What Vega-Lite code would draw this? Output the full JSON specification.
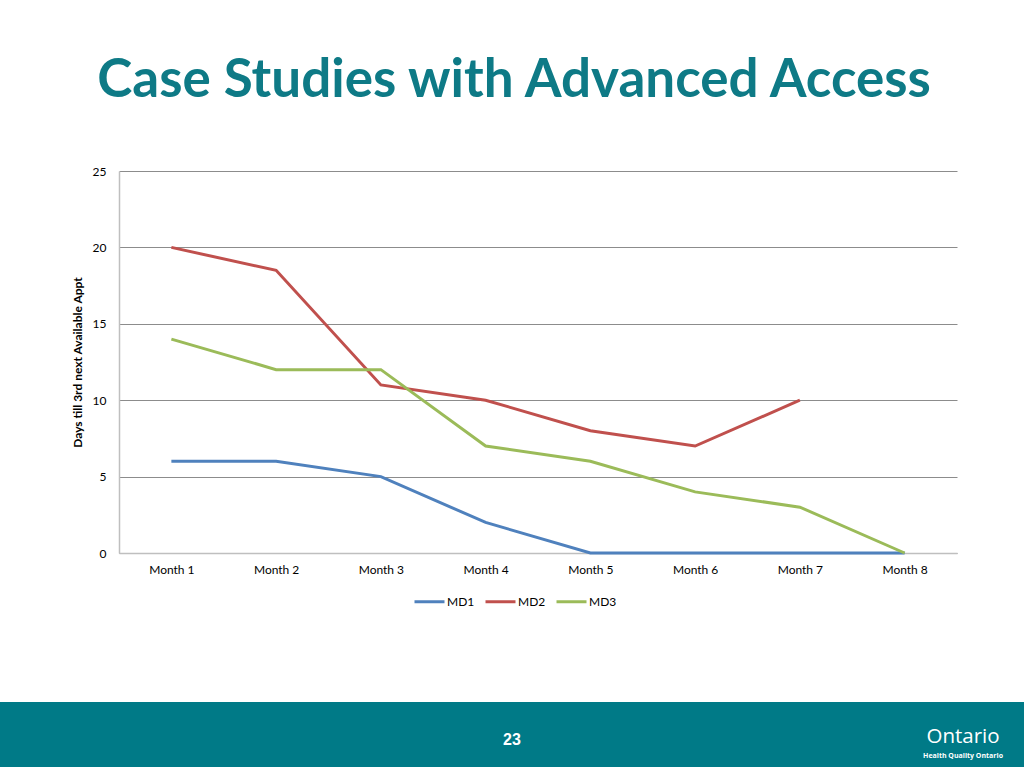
{
  "$schema": "https://vega.github.io/schema/vega-lite/v6.json",
  "padding": {"left": 0, "top": 55, "right": 0, "bottom": 0},
  "background": "white",
  "spacing": 94,
  "resolve": {"legend": {"color": "independent"}, "scale": {"color": "independent"}},
  "config": {
    "view": {"stroke": null},
    "axis": {"labelFont": "Lato", "labelFontSize": 12, "labelColor": "#000000", "titleFont": "Lato", "titleColor": "#000000"},
    "legend": {"labelFont": "Lato", "labelFontSize": 12, "labelColor": "#000000"}
  },
  "vconcat": [
    {
      "spacing": 20,
      "resolve": {"legend": {"color": "independent"}, "scale": {"color": "independent"}},
      "hconcat": [
        {
          "width": 51,
          "height": 10,
          "data": {"values": []},
          "mark": "point"
        },
        {
          "title": {
            "text": "Case Studies with Advanced Access",
            "font": "Lato",
            "fontSize": 53,
            "fontWeight": "bold",
            "color": "#0E7A86",
            "anchor": "middle",
            "frame": "bounds",
            "offset": 57
          },
          "width": 838,
          "height": 382,
          "data": {
            "values": [
              {"month": "Month 1", "series": "MD1", "days": 6},
              {"month": "Month 2", "series": "MD1", "days": 6},
              {"month": "Month 3", "series": "MD1", "days": 5},
              {"month": "Month 4", "series": "MD1", "days": 2},
              {"month": "Month 5", "series": "MD1", "days": 0},
              {"month": "Month 6", "series": "MD1", "days": 0},
              {"month": "Month 7", "series": "MD1", "days": 0},
              {"month": "Month 8", "series": "MD1", "days": 0},
              {"month": "Month 1", "series": "MD2", "days": 20},
              {"month": "Month 2", "series": "MD2", "days": 18.5},
              {"month": "Month 3", "series": "MD2", "days": 11},
              {"month": "Month 4", "series": "MD2", "days": 10},
              {"month": "Month 5", "series": "MD2", "days": 8},
              {"month": "Month 6", "series": "MD2", "days": 7},
              {"month": "Month 7", "series": "MD2", "days": 10},
              {"month": "Month 1", "series": "MD3", "days": 14},
              {"month": "Month 2", "series": "MD3", "days": 12},
              {"month": "Month 3", "series": "MD3", "days": 12},
              {"month": "Month 4", "series": "MD3", "days": 7},
              {"month": "Month 5", "series": "MD3", "days": 6},
              {"month": "Month 6", "series": "MD3", "days": 4},
              {"month": "Month 7", "series": "MD3", "days": 3},
              {"month": "Month 8", "series": "MD3", "days": 0}
            ]
          },
          "mark": {"type": "line", "strokeWidth": 3},
          "encoding": {
            "x": {
              "field": "month",
              "type": "ordinal",
              "sort": null,
              "scale": {"type": "point", "padding": 0.5},
              "axis": {"title": null, "labelAngle": 0, "ticks": false, "tickSize": 0, "labelPadding": 11, "domainColor": "#BFBFBF", "domainWidth": 1.5}
            },
            "y": {
              "field": "days",
              "type": "quantitative",
              "scale": {"domain": [0, 25], "nice": false},
              "axis": {
                "title": "Days till 3rd next Available Appt",
                "titleFontSize": 12,
                "titleFontWeight": "bold",
                "values": [0, 5, 10, 15, 20, 25],
                "grid": true,
                "gridColor": "#8C8C8C",
                "gridWidth": 1,
                "ticks": false,
                "tickSize": 0,
                "labelPadding": 13,
                "titlePadding": 8,
                "domainColor": "#BFBFBF",
                "domainWidth": 1.5
              }
            },
            "color": {
              "field": "series",
              "type": "nominal",
              "scale": {"domain": ["MD1", "MD2", "MD3"], "range": ["#4F81BD", "#C0504D", "#9BBB59"]},
              "legend": {
                "orient": "none",
                "legendX": 294,
                "legendY": 414,
                "direction": "horizontal",
                "title": null,
                "symbolType": "stroke",
                "symbolSize": 900,
                "symbolStrokeWidth": 3,
                "labelOffset": 1,
                "columnPadding": 4
              }
            }
          }
        }
      ]
    },
    {
      "width": 1024,
      "height": 65,
      "view": {"fill": "#007A87", "stroke": null},
      "layer": [
        {
          "data": {"values": [{"t": "23"}]},
          "mark": {"type": "text", "font": "Liberation Sans", "fontWeight": "bold", "fontSize": 16, "color": "white", "dy": 5},
          "encoding": {"text": {"field": "t"}}
        },
        {
          "data": {"values": [{"t": "Ontario"}]},
          "mark": {"type": "text", "font": "Open Sans", "fontSize": 20.5, "color": "white", "dx": 451, "dy": 2},
          "encoding": {"text": {"field": "t"}}
        },
        {
          "data": {"values": [{"t": "Health Quality Ontario"}]},
          "mark": {"type": "text", "font": "Open Sans", "fontWeight": "bold", "fontSize": 7, "color": "white", "dx": 451, "dy": 21},
          "encoding": {"text": {"field": "t"}}
        }
      ]
    }
  ]
}
